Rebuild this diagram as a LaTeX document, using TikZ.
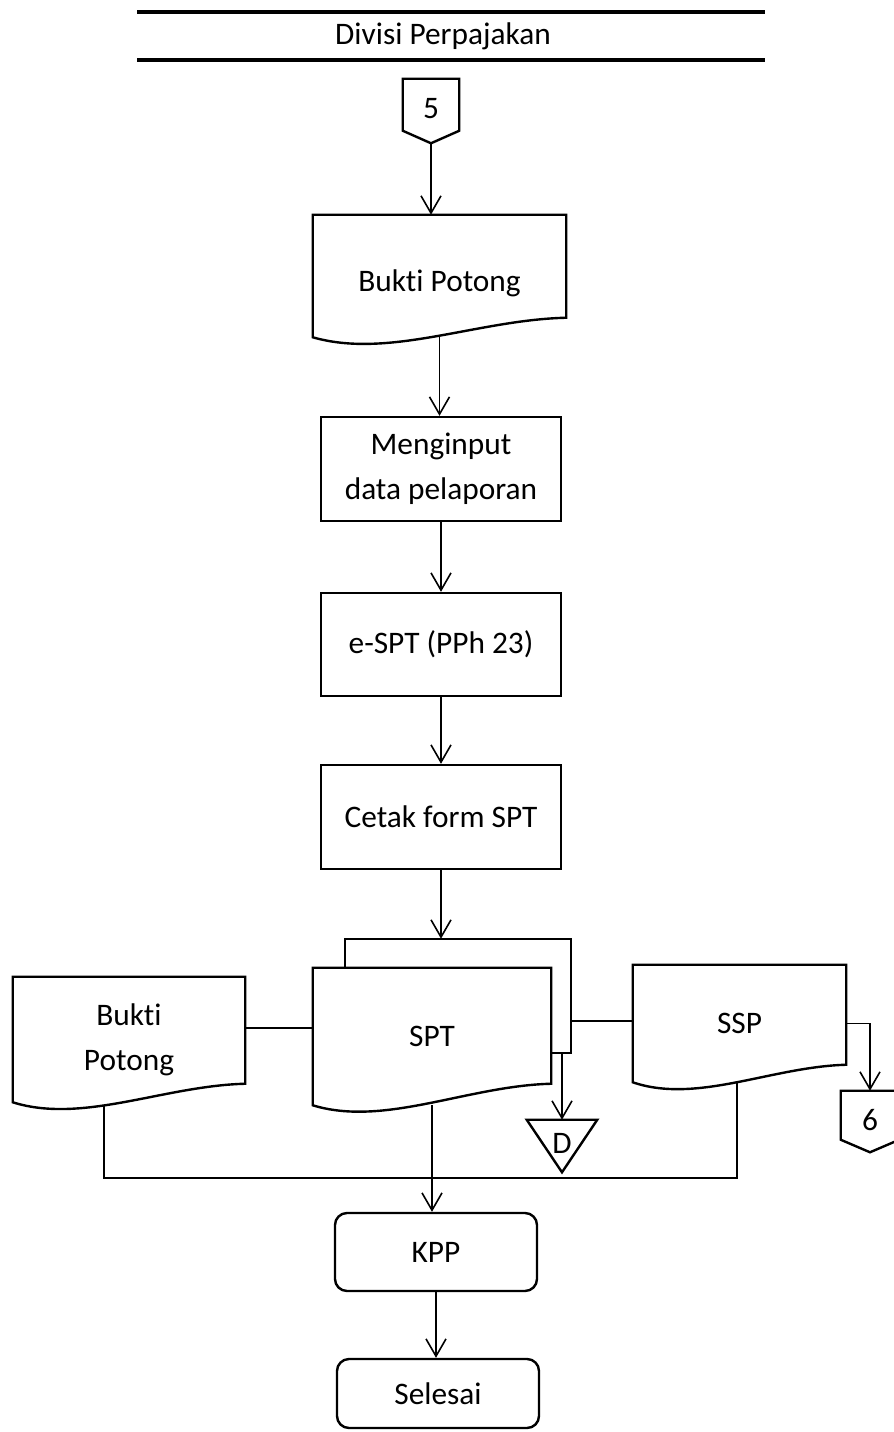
\documentclass[tikz,border=0pt]{standalone}
\usepackage{fontspec}
\setmainfont{Carlito}[Ligatures={NoCommon}]
\usetikzlibrary{arrows.meta,calc}
\tikzset{
  txt/.style={font=\fontsize{23.5pt}{33.75pt}\selectfont, align=center, inner sep=0pt},
  boxnode/.style={txt, draw, line width=1.8pt, rectangle},
  plain/.style={txt, draw=none, rectangle},
  termnode/.style={txt, draw, line width=1.8pt, rectangle, rounded corners=9pt},
  shp/.style={line width=1.8pt, line join=miter},
  ln/.style={line width=1.3pt},
  arr/.style={line width=1.2pt, -{Straight Barb[length=13pt,width=15pt,line width=1.2pt]}},
  hdr/.style={line width=3pt}
}
\newcommand\docoutline[2]{%
  \draw[shp] let \p1=(#1.north west), \p2=(#1.south east), \n1={\x2-\x1} in
  (\x1,\y1) -- (\x2,\y1) -- (\x2,{\y1-#2*0.75pt})
  .. controls ({\x2-0.35*\n1},{\y1-(#2+2)*0.75pt}) and ({\x1+0.3*\n1},{\y2-22*0.75pt}) ..
  (\x1,\y2) -- cycle;}
\newcommand\offpage[2]{%
  \draw[shp] let \p1=(#1.north west), \p2=(#1.south east) in
  (\x1,\y1) -- (\x2,\y1) -- (\x2,{\y1-#2*0.75pt}) -- (#1.south) -- (\x1,{\y1-#2*0.75pt}) -- cycle;}
\begin{document}
\begin{tikzpicture}[x=0.75pt,y=-0.75pt]
\useasboundingbox (0,0) rectangle (893,1432);
% header
\coordinate (h1l) at (137,12); \coordinate (h1r) at (765,12);
\coordinate (h2l) at (137,60); \coordinate (h2r) at (765,60);
\draw[hdr] (h1l) -- (h1r);
\draw[hdr] (h2l) -- (h2r);
\node[txt] (title) at (443,36) {Divisi Perpajakan};
% off-page 5
\node[plain, minimum width=42pt, minimum height=48pt] (c5) at (431,111) {};
\offpage{c5}{52}
\node[txt] (c5t) at (431,109) {5};
% Bukti Potong (top)
\node[plain, minimum width=189.75pt, minimum height=91.5pt] (bp1) at (439.5,276) {\raisebox{-5.5pt}[\height][\depth]{Bukti Potong}};
\docoutline{bp1}{103}
% process boxes
\node[boxnode, minimum width=180pt, minimum height=78pt] (inp) at (441,469) {Menginput\\data pelaporan};
\node[boxnode, minimum width=180pt, minimum height=77.25pt] (espt) at (441,644.5) {e-SPT (PPh 23)};
\node[boxnode, minimum width=180pt, minimum height=78pt] (cetak) at (441,817) {Cetak form SPT};
% SPT multi document
\node[plain, minimum width=169.5pt, minimum height=85.5pt] (sptb) at (458,996) {};
\node[plain, minimum width=178.5pt, minimum height=102.75pt] (spt) at (432,1036.5) {SPT};
\draw[shp] (sptb.north west |- spt.north) -- (sptb.north west) -- (sptb.north east) -- (sptb.south east) -- (spt.east |- sptb.south);
\docoutline{spt}{116}
% Bukti Potong (left)
\node[plain, minimum width=174pt, minimum height=93.75pt] (bp2) at (129,1039.5) {Bukti\\Potong};
\docoutline{bp2}{107}
% SSP
\node[plain, minimum width=159.75pt, minimum height=87.75pt] (ssp) at (739.5,1023.5) {SSP};
\docoutline{ssp}{100}
% D triangle
\node[plain, minimum width=52.5pt, minimum height=39pt] (dD) at (562,1146) {};
\draw[shp] (dD.north west) -- (dD.north east) -- (dD.south) -- cycle;
\node[txt] (dDt) at (562,1143) {D};
% off-page 6
\node[plain, minimum width=43.5pt, minimum height=45.75pt] (c6) at (870,1121.5) {};
\offpage{c6}{49}
\node[txt] (c6t) at (870,1120) {6};
% terminals
\node[termnode, minimum width=151.5pt, minimum height=58.5pt] (kpp) at (436,1252) {KPP};
\node[termnode, minimum width=151.5pt, minimum height=51.75pt] (sel) at (438,1393.5) {Selesai};
% connectors
\draw[arr] (c5.south) -- (c5.south |- bp1.north);
\draw[arr] (bp1.south) -- (bp1.south |- inp.north);
\draw[arr] (inp.south) -- (espt.north);
\draw[arr] (espt.south) -- (cetak.north);
\draw[arr] (cetak.south) -- (cetak.south |- sptb.north);
\draw[ln] ([yshift=8.6pt]bp2.east) -- ([yshift=8.6pt]bp2.east -| spt.west);
\draw[ln] ([yshift=-18.75pt]sptb.east) -- ([yshift=-18.75pt]sptb.east -| ssp.west);
\draw[arr] (ssp.east) -| (c6.north);
\draw[arr] (dD.north |- sptb.south) -- (dD.north);
\coordinate (bus) at (0,1178);
\coordinate (bpout) at ([xshift=-18.75pt,yshift=-3pt]bp2.south);
\coordinate (sspout) at ([xshift=-1.9pt]ssp.south);
\draw[ln] (bpout) -- (bpout |- bus) -- (sspout |- bus) -- (sspout);
\draw[arr] (spt.south) -- (spt.south |- kpp.north);
\draw[arr] (kpp.south) -- (kpp.south |- sel.north);
\end{tikzpicture}
\end{document}
